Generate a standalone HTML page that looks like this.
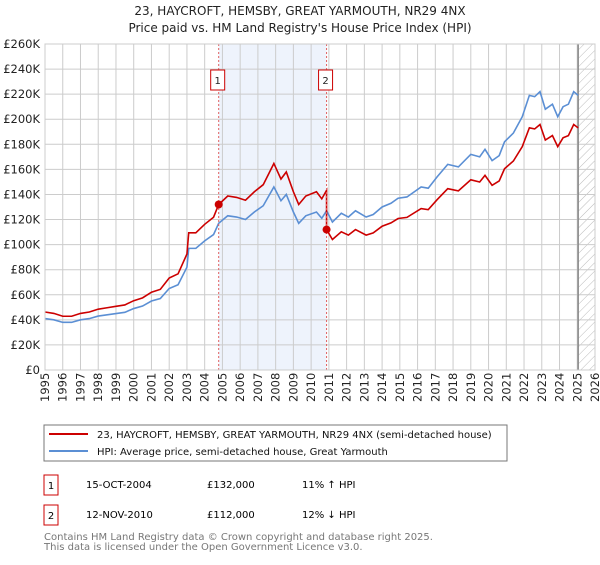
<!DOCTYPE html>
<html><head><meta charset="utf-8"><style>
body{margin:0;background:#fff;font-family:"Liberation Sans","DejaVu Sans",sans-serif}
svg text{font-family:"DejaVu Sans","Liberation Sans",sans-serif}
</style></head><body>
<svg id="c" width="600" height="560" viewBox="0 0 600 560" xmlns="http://www.w3.org/2000/svg">
<text x="300" y="15" text-anchor="middle" font-size="12" fill="#222">23, HAYCROFT, HEMSBY, GREAT YARMOUTH, NR29 4NX</text>
<text x="300" y="32" text-anchor="middle" font-size="12" fill="#222">Price paid vs. HM Land Registry's House Price Index (HPI)</text>
<g id="plot"></g>
<rect x="44" y="425" width="463" height="36" fill="#fff" stroke="#777"/>
<line x1="49" y1="434" x2="88" y2="434" stroke="#cc0000" stroke-width="2"/>
<text x="97" y="438" font-size="10" fill="#111">23, HAYCROFT, HEMSBY, GREAT YARMOUTH, NR29 4NX (semi-detached house)</text>
<line x1="49" y1="451" x2="88" y2="451" stroke="#5b8fd4" stroke-width="2"/>
<text x="97" y="455" font-size="10" fill="#111">HPI: Average price, semi-detached house, Great Yarmouth</text>
<g>
<rect x="44" y="475" width="14" height="20" fill="#fff" stroke="#cc0000"/>
<text x="51" y="489" text-anchor="middle" font-size="10">1</text>
<text x="86" y="488" font-size="10">15-OCT-2004</text>
<text x="207" y="488" font-size="10">£132,000</text>
<text x="302" y="488" font-size="10">11% ↑ HPI</text></g>
<g>
<rect x="44" y="505" width="14" height="20" fill="#fff" stroke="#cc0000"/>
<text x="51" y="519" text-anchor="middle" font-size="10">2</text>
<text x="86" y="518" font-size="10">12-NOV-2010</text>
<text x="207" y="518" font-size="10">£112,000</text>
<text x="302" y="518" font-size="10">12% ↓ HPI</text></g>
<text x="44" y="540" font-size="10" fill="#777">Contains HM Land Registry data © Crown copyright and database right 2025.</text>
<text x="44" y="550" font-size="10" fill="#777">This data is licensed under the Open Government Licence v3.0.</text>
</svg>
<script>
const hpiYears=[1995,1995.5,1996,1996.5,1997,1997.5,1998,1998.5,1999,1999.5,2000,2000.5,2001,2001.5,2002,2002.5,2003,2003.1,2003.5,2004,2004.5,2004.79,2005.3,2005.8,2006.3,2006.8,2007.3,2007.9,2008.3,2008.6,2009,2009.3,2009.7,2010.3,2010.6,2010.87,2011.2,2011.7,2012.1,2012.5,2013.1,2013.5,2014.0,2014.5,2014.9,2015.4,2016.2,2016.6,2017.1,2017.7,2018.3,2019.0,2019.5,2019.8,2020.2,2020.6,2020.9,2021.4,2021.9,2022.3,2022.6,2022.9,2023.2,2023.6,2023.9,2024.2,2024.5,2024.8,2025.05];
const hpiValues=[41,40,38,38,40,41,43,44,45,46,49,51,55,57,65,68,82,97,97,103,108,117,123,122,120,126,131,146,135,140,126,117,123,126,121,127,118,125,122,127,122,124,130,133,137,138,146,145,154,164,162,172,170,176,167,171,182,189,202,219,218,222,208,212,202,210,212,222,219];
const sales=[{t:2004.79,v:132,label:"1"},{t:2010.87,v:112,label:"2"}];
const yTicks=[0,20,40,60,80,100,120,140,160,180,200,220,240,260];
const xTicks=[1995,1996,1997,1998,1999,2000,2001,2002,2003,2004,2005,2006,2007,2008,2009,2010,2011,2012,2013,2014,2015,2016,2017,2018,2019,2020,2021,2022,2023,2024,2025,2026];
const X0=45,X1=595,Y0=370,Y1=44;
const xs=t=>X0+(t-1995)/(2026-1995)*(X1-X0);
const ys=v=>Y0-v/260*(Y0-Y1);
const NS="http://www.w3.org/2000/svg";
const g=document.getElementById('plot');
function mk(tag,a){const e=document.createElementNS(NS,tag);for(const k in a)e.setAttribute(k,a[k]);g.appendChild(e);return e;}
let sh=mk('rect',{x:xs(sales[0].t),y:Y1,width:xs(sales[1].t)-xs(sales[0].t),height:Y0-Y1,fill:'#eef3fc'});


const defs=document.createElementNS(NS,'defs');defs.innerHTML='<pattern id="h" width="6" height="6" patternUnits="userSpaceOnUse" patternTransform="rotate(45)"><line x1="0" y1="0" x2="0" y2="6" stroke="#bbb" stroke-width="1"/></pattern>';g.appendChild(defs);
let hr=mk('rect',{x:xs(2025.05),y:Y1,width:X1-xs(2025.05),height:Y0-Y1,fill:'url(#h)'});


yTicks.forEach(v=>{let l=mk('line',{x1:X0,x2:X1,y1:ys(v),y2:ys(v),stroke:'#ccc'});


let t=mk('text',{x:X0-5,y:ys(v)+4,'text-anchor':'end','font-size':'11.5',fill:'#222'});t.textContent=v===0?'£0':'£'+v+'K';

});
xTicks.forEach(y=>{let l=mk('line',{x1:xs(y),x2:xs(y),y1:Y1,y2:Y0,stroke:'#ccc'});


let t=mk('text',{x:0,y:0,'font-size':'11.5',fill:'#222',transform:`translate(${xs(y)+4},${Y0+32}) rotate(-90)`});t.textContent=y;

});
let ln=mk('line',{x1:xs(2025.05),x2:xs(2025.05),y1:Y1,y2:Y0,stroke:'#888','stroke-width':1.5});


function hpiAt(t){for(let i=0;i<hpiYears.length-1;i++){if(t<=hpiYears[i+1]){const f=(t-hpiYears[i])/(hpiYears[i+1]-hpiYears[i]);return hpiValues[i]+f*(hpiValues[i+1]-hpiValues[i]);}}return hpiValues[hpiValues.length-1];}
let p=mk('polyline',{points:hpiYears.map((t,i)=>xs(t)+','+ys(hpiValues[i])).join(' '),fill:'none',stroke:'#5b8fd4','stroke-width':1.6});


const f1=sales[0].v/hpiAt(sales[0].t),f2=sales[1].v/hpiAt(sales[1].t);
let pts=[];hpiYears.forEach((t,i)=>{if(t<sales[1].t)pts.push(xs(t)+','+ys(hpiValues[i]*f1));});
pts.push(xs(sales[1].t)+','+ys(hpiAt(sales[1].t)*f1));
hpiYears.forEach((t,i)=>{if(t>=sales[1].t)pts.push(xs(t)+','+ys(hpiValues[i]*f2));});
let r=mk('polyline',{points:pts.join(' '),fill:'none',stroke:'#cc0000','stroke-width':1.6});


sales.forEach(s=>{let d=mk('line',{x1:xs(s.t),x2:xs(s.t),y1:Y1,y2:Y0,stroke:'#e06060','stroke-dasharray':'2,2'});


let c=mk('circle',{cx:xs(s.t),cy:ys(s.v),r:4,fill:'#cc0000'});


let b=mk('rect',{x:xs(s.t)-8,y:70,width:14,height:20,fill:'#fff',stroke:'#cc0000'});


let t=mk('text',{x:xs(s.t)-1,y:84,'text-anchor':'middle','font-size':'10',fill:'#222'});t.textContent=s.label;

});
let ax=mk('rect',{x:X0,y:Y1,width:X1-X0,height:Y0-Y1,fill:'none',stroke:'#ccc'});


</script>
</body></html>
